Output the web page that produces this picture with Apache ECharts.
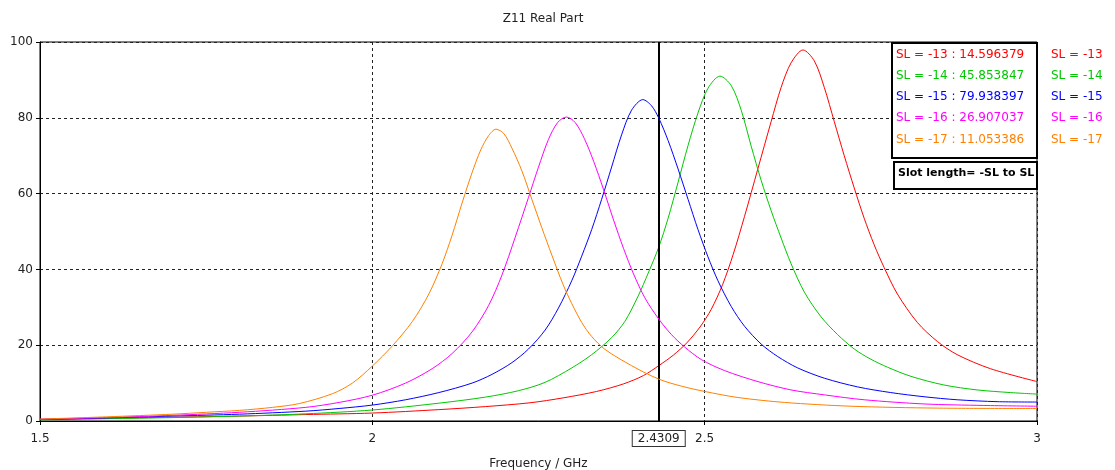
<!DOCTYPE html>
<html>
<head>
<meta charset="utf-8">
<title>Z11 Real Part</title>
<script src="https://cdn.jsdelivr.net/npm/echarts@6/dist/echarts.min.js"></script>
<style>
  html, body { margin: 0; padding: 0; background: #ffffff; }
  #chart { width: 1115px; height: 470px; }
</style>
</head>
<body>
<div id="chart"></div>
<script>
// Slot length sweep: real part of Z11 versus frequency (GHz)
const slotLengths = [-13, -14, -15, -16, -17];
const seriesNames = slotLengths.map(v => 'SL = ' + v);
const seriesColors = ['#ff0000', '#00c800', '#0000ff', '#ff00ff', '#ff8000'];

// [frequency GHz, Re(Z11)]
const sl13 = [
  [1.50, 0.4], [1.60, 0.7], [1.70, 1.0], [1.80, 1.3], [1.90, 1.7], [2.00, 2.1],
  [2.10, 3.0], [2.17, 3.8], [2.237, 4.8], [2.287, 6.1], [2.3375, 7.8], [2.378, 9.8],
  [2.408, 12.0], [2.453, 17.4], [2.473, 20.6], [2.493, 24.8], [2.51, 29.5],
  [2.527, 36.0], [2.543, 44.0], [2.56, 54.0], [2.58, 66.5], [2.60, 79.0],
  [2.615, 88.0], [2.63, 94.5], [2.648, 97.9], [2.665, 95.0], [2.68, 88.0],
  [2.695, 79.0], [2.71, 70.0], [2.725, 61.5], [2.74, 53.5], [2.755, 46.5],
  [2.77, 40.5], [2.79, 33.5], [2.82, 26.0], [2.85, 21.0], [2.88, 17.5],
  [2.93, 13.8], [3.00, 10.4]
];
const sl14 = [
  [1.50, 0.3], [1.60, 0.6], [1.70, 0.9], [1.80, 1.3], [1.90, 1.9], [2.00, 2.9],
  [2.10, 4.7], [2.17, 6.3], [2.22, 8.0], [2.26, 10.2], [2.30, 14.0], [2.33, 17.5],
  [2.36, 22.0], [2.38, 26.3], [2.40, 33.0], [2.415, 39.0], [2.445, 53.5],
  [2.46, 63.0], [2.475, 72.7], [2.49, 81.3], [2.505, 87.8], [2.523, 91.0],
  [2.54, 88.5], [2.555, 82.0], [2.57, 72.5], [2.585, 63.5], [2.60, 55.5],
  [2.615, 48.3], [2.63, 41.5], [2.65, 34.0], [2.675, 27.5], [2.70, 22.8],
  [2.725, 19.0], [2.75, 16.3], [2.775, 14.2], [2.81, 11.8], [2.86, 9.5],
  [2.91, 8.2], [2.96, 7.5], [3.00, 7.1]
];
const sl15 = [
  [1.50, 0.4], [1.60, 0.8], [1.70, 1.3], [1.80, 1.8], [1.90, 2.6], [1.95, 3.3],
  [2.00, 4.2], [2.05, 5.6], [2.10, 7.5], [2.15, 10.0], [2.18, 12.3], [2.21, 15.4],
  [2.235, 19.0], [2.26, 24.0], [2.28, 29.8], [2.30, 37.0], [2.315, 43.5],
  [2.33, 50.5], [2.345, 58.5], [2.36, 67.0], [2.375, 75.5], [2.39, 82.0],
  [2.407, 84.8], [2.42, 83.2], [2.445, 74.0], [2.46, 66.5], [2.475, 58.5],
  [2.49, 50.5], [2.505, 43.3], [2.52, 37.0], [2.54, 30.2], [2.56, 25.0],
  [2.585, 20.3], [2.61, 17.0], [2.64, 14.0], [2.68, 11.3], [2.73, 9.0],
  [2.78, 7.5], [2.83, 6.4], [2.88, 5.6], [2.94, 5.1], [3.00, 5.0]
];
const sl16 = [
  [1.50, 0.5], [1.60, 0.9], [1.70, 1.5], [1.80, 2.3], [1.90, 3.6], [1.95, 4.9],
  [2.00, 6.8], [2.05, 10.0], [2.09, 13.8], [2.12, 17.8], [2.15, 23.5], [2.175, 30.5],
  [2.195, 38.5], [2.215, 48.5], [2.235, 59.0], [2.25, 67.0], [2.265, 74.3],
  [2.279, 78.8], [2.292, 80.2], [2.305, 78.8], [2.319, 74.5], [2.333, 68.5],
  [2.348, 61.0], [2.363, 53.0], [2.378, 45.5], [2.393, 38.8], [2.41, 32.5],
  [2.45, 22.8], [2.47, 19.5], [2.495, 16.2], [2.53, 13.3], [2.58, 10.4],
  [2.63, 8.2], [2.68, 6.9], [2.74, 5.6], [2.83, 4.5], [2.92, 4.1], [3.00, 3.9]
];
const sl17 = [
  [1.50, 0.5], [1.60, 1.1], [1.70, 1.8], [1.75, 2.3], [1.80, 2.8], [1.85, 3.6],
  [1.89, 4.6], [1.94, 7.2], [1.97, 10.0], [2.00, 14.5], [2.03, 19.8], [2.06, 26.2],
  [2.085, 33.5], [2.105, 41.5], [2.12, 49.0], [2.135, 57.5], [2.15, 65.5],
  [2.163, 71.5], [2.175, 75.3], [2.186, 77.0], [2.198, 75.8], [2.21, 72.0],
  [2.225, 66.0], [2.24, 58.5], [2.255, 51.0], [2.27, 43.8], [2.287, 36.0],
  [2.30, 31.0], [2.315, 26.0], [2.33, 22.3], [2.35, 18.9], [2.39, 14.6],
  [2.465, 9.2], [2.50, 7.8], [2.55, 6.2], [2.62, 4.9], [2.72, 3.9], [2.85, 3.4],
  [3.00, 3.3]
];
const curveData = [sl13, sl14, sl15, sl16, sl17];

// Cursor position and the values read at it
const markerFreq = 2.4309;
const markerValues = [14.596379, 45.853847, 79.938397, 26.907037, 11.053386];

const yTicks = { min: 0, max: 100, interval: 20 };
const xTicks = { min: 1.5, max: 3, interval: 0.5 };

const FONT = 'DejaVu Sans';
const chart = echarts.init(document.getElementById('chart'), null, { renderer: 'canvas' });

const series = curveData.map((pts, i) => {
  const data = pts.concat([[markerFreq, markerValues[i]]]).sort((a, b) => a[0] - b[0]);
  const s = {
    name: seriesNames[i],
    type: 'line',
    data: data,
    smooth: 0.3,
    showSymbol: false,
    symbol: 'none',
    lineStyle: { color: seriesColors[i], width: 1 },
    itemStyle: { color: seriesColors[i] },
    z: 3 + i,
    animation: false
  };
  if (i === 0) {
    s.markLine = {
      silent: true,
      symbol: ['none', 'none'],
      animation: false,
      lineStyle: { color: '#000000', width: 2, type: 'solid' },
      label: {
        show: true,
        position: 'start',
        distance: 10,
        formatter: String(markerFreq),
        color: '#222',
        fontFamily: FONT,
        fontSize: 12,
        backgroundColor: '#ffffff',
        borderColor: '#333',
        borderWidth: 1,
        padding: [2, 5, 1, 5]
      },
      data: [[{ coord: [markerFreq, yTicks.min] }, { coord: [markerFreq, yTicks.max] }]]
    };
  }
  return s;
});

// Readout box listing each curve's value at the cursor
const readoutLines = seriesNames.map((n, i) => ({
  type: 'text',
  left: 896,
  top: 49 + i * 21.1,
  z: 51,
  style: {
    text: n + ' : ' + markerValues[i].toFixed(6),
    fill: seriesColors[i],
    font: '12px "' + FONT + '"'
  }
}));

// Series key beside the plot
const keyLines = seriesNames.map((n, i) => ({
  type: 'text',
  left: 1051,
  top: 49 + i * 21.1,
  z: 51,
  style: { text: n, fill: seriesColors[i], font: '12px "' + FONT + '"' }
}));

chart.setOption({
  backgroundColor: '#ffffff',
  animation: false,
  title: {
    text: 'Z11 Real Part',
    left: 538,
    top: 8,
    textAlign: 'center',
    textStyle: { fontFamily: FONT, fontSize: 12, fontWeight: 'normal', color: '#222' }
  },
  grid: {
    left: 40, right: 78, top: 42, bottom: 49,
    outerBoundsMode: 'none',
    containLabel: false,
    show: true, borderColor: '#000', borderWidth: 1, backgroundColor: 'transparent'
  },
  xAxis: {
    type: 'value',
    min: xTicks.min, max: xTicks.max, interval: xTicks.interval,
    name: 'Frequency / GHz',
    nameLocation: 'middle',
    nameGap: 37,
    nameTextStyle: { fontFamily: FONT, fontSize: 12, color: '#222' },
    axisLine: { onZero: false, lineStyle: { color: '#000', width: 1 } },
    axisTick: { show: true, length: 4, lineStyle: { color: '#000' } },
    axisLabel: { fontFamily: FONT, fontSize: 12, color: '#222', margin: 12,
      formatter: v => String(+v.toFixed(2)) },
    splitLine: { show: true, lineStyle: { color: '#222', type: [3, 3], width: 1 } }
  },
  yAxis: {
    type: 'value',
    min: yTicks.min, max: yTicks.max, interval: yTicks.interval,
    axisLine: { show: true, lineStyle: { color: '#000', width: 1 } },
    axisTick: { show: true, length: 4, lineStyle: { color: '#000' } },
    axisLabel: { fontFamily: FONT, fontSize: 12, color: '#222', margin: 7 },
    splitLine: { show: true, lineStyle: { color: '#222', type: [3, 3], width: 1 } }
  },
  graphic: [
    {
      type: 'rect', left: 891, top: 42, z: 50,
      shape: { width: 145, height: 115 },
      style: { fill: '#ffffff', stroke: '#000000', lineWidth: 2 }
    },
    ...readoutLines,
    ...keyLines,
    {
      type: 'rect', left: 893, top: 161, z: 50,
      shape: { width: 143, height: 27 },
      style: { fill: '#ffffff', stroke: '#000000', lineWidth: 2 }
    },
    {
      type: 'text', left: 898, top: 168, z: 51,
      style: { text: 'Slot length= -SL to SL', fill: '#000', font: 'bold 11px "' + FONT + '"' }
    }
  ],
  series: series
});
</script>
</body>
</html>
